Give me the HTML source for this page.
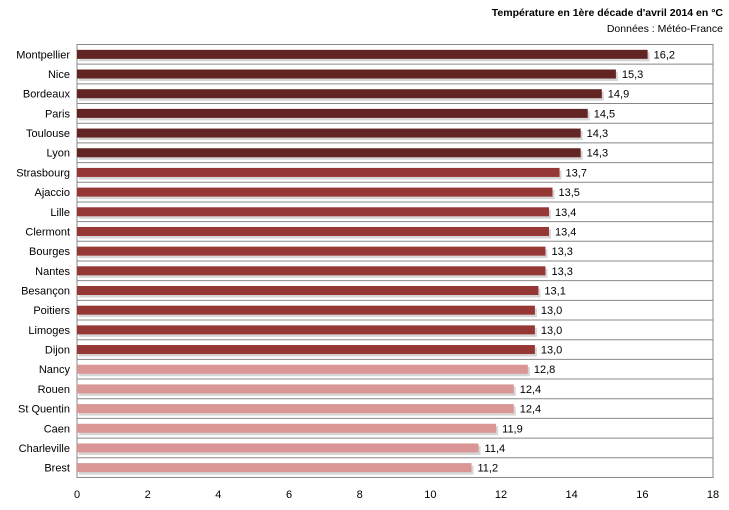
<!DOCTYPE html>
<html><head><meta charset="utf-8"><style>
body{margin:0;width:729px;height:505px;background:#fff;font-family:"Liberation Sans",sans-serif;overflow:hidden}
</style></head><body>
<svg width="729" height="505" xmlns="http://www.w3.org/2000/svg" font-family="Liberation Sans, sans-serif" font-size="11">
<text x="723" y="16" text-anchor="end" font-weight="bold" font-size="10.5">Température en 1ère décade d'avril 2014 en °C</text>
<text x="723" y="32" text-anchor="end" font-size="10.5">Données : Météo-France</text>
<g id="g"></g>
</svg>
<script>
var d=[["Montpellier",16.2],["Nice",15.3],["Bordeaux",14.9],["Paris",14.5],["Toulouse",14.3],["Lyon",14.3],["Strasbourg",13.7],["Ajaccio",13.5],["Lille",13.4],["Clermont",13.4],["Bourges",13.3],["Nantes",13.3],["Besançon",13.1],["Poitiers",13.0],["Limoges",13.0],["Dijon",13.0],["Nancy",12.8],["Rouen",12.4],["St Quentin",12.4],["Caen",11.9],["Charleville",11.4],["Brest",11.2]];
var L=77,R=713,T=44.5,S=19.68,k=(R-L-2)/18,h='';
h+='<rect x="'+L+'" y="'+T+'" width="'+(R-L)+'" height="'+(S*22)+'" fill="none" stroke="#888"/>';
for(var i=1;i<22;i++){var y=T+S*i;h+='<line x1="'+L+'" x2="'+R+'" y1="'+y+'" y2="'+y+'" stroke="#888"/>';}
d.forEach(function(r,i){var c=i<6?'#632523':i<16?'#953735':'#d99694';var cy=T+S*i+S/2,w=r[1]*k;
h+='<rect x="'+(L+2)+'" y="'+(cy-2)+'" width="'+w+'" height="9" fill="#bbb" opacity="0.6"/>';
h+='<rect x="'+L+'" y="'+(cy-4.5)+'" width="'+w+'" height="9" fill="'+c+'"/>';
h+='<text x="'+(L-7)+'" y="'+(cy+4)+'" text-anchor="end">'+r[0]+'</text>';
h+='<text x="'+(L+w+6)+'" y="'+(cy+4)+'">'+r[1].toFixed(1).replace('.',',')+'</text>';});
for(var t=0;t<=18;t+=2){h+='<text x="'+(L+t*(R-L)/18)+'" y="498" text-anchor="middle">'+t+'</text>';}
document.getElementById('g').innerHTML=h;
</script>
</body></html>
